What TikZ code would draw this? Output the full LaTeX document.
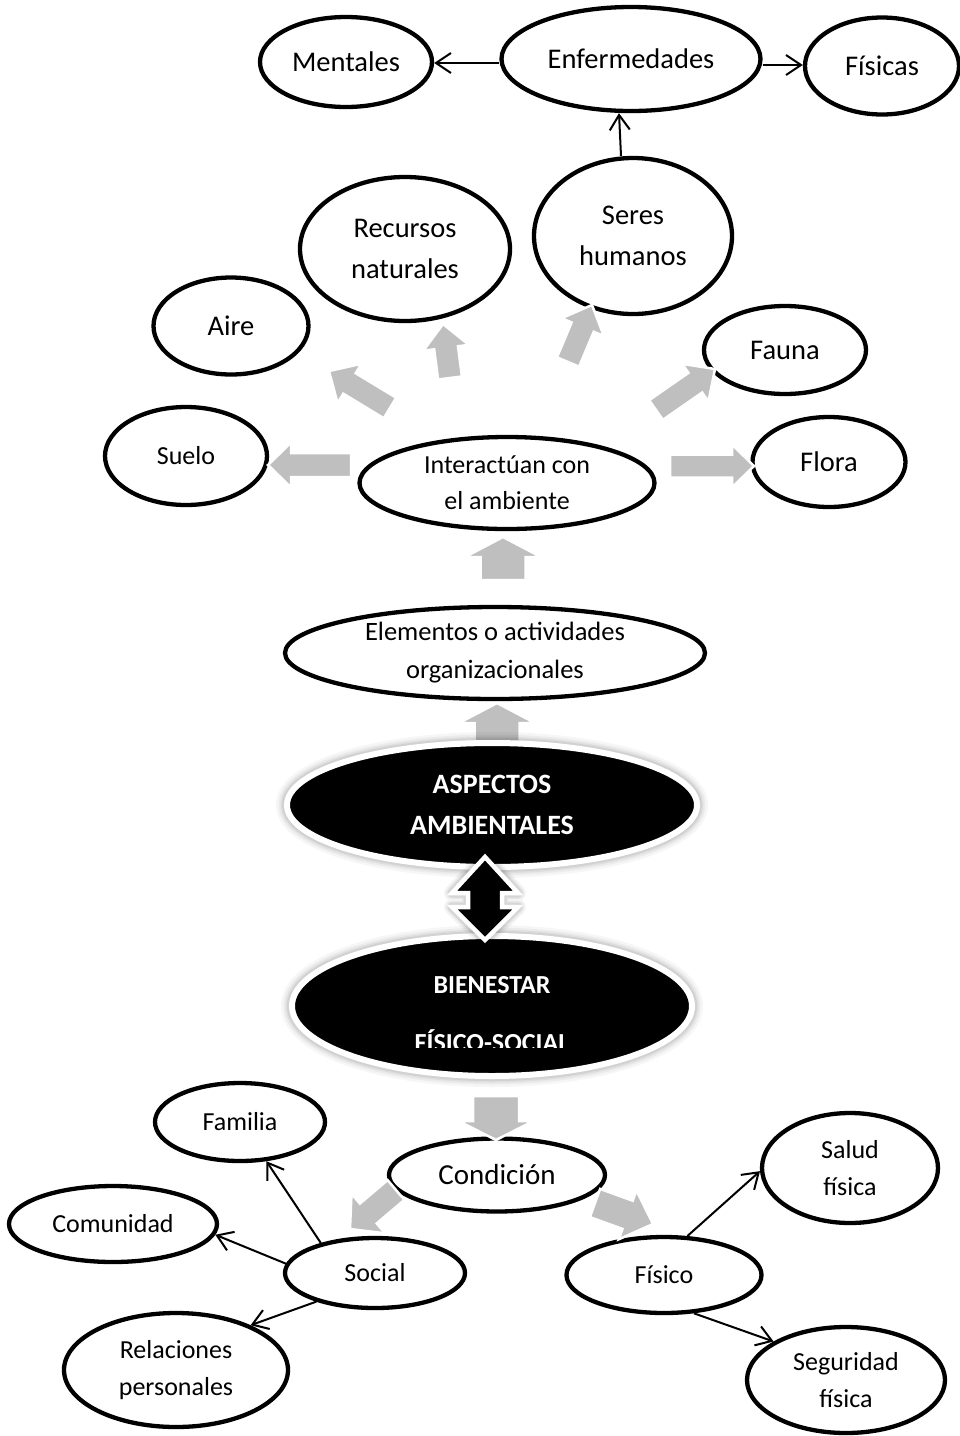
\documentclass[tikz,border=0pt]{standalone}
\usepackage{fontspec}
\setmainfont{Carlito}
\usetikzlibrary{shapes.geometric,arrows.meta,calc}
\definecolor{arrowgray}{HTML}{BFBFBF}

% block arrow: #1 tail, #2 tip, #3 shaft half width, #4 head half width, #5 head length
\newcommand\blockarrow[5]{%
  \coordinate (ba-h) at ($(#2)!#5pt!(#1)$);
  \path[barrow] ($(#1)!#3pt!90:(#2)$) -- ($(ba-h)!#3pt!90:(#2)$) -- ($(ba-h)!#4pt!90:(#2)$)
    -- (#2) -- ($(ba-h)!#4pt!-90:(#2)$) -- ($(ba-h)!#3pt!-90:(#2)$) -- ($(#1)!#3pt!-90:(#2)$) -- cycle;
}

\tikzset{
  bub/.style={ellipse, draw=black, line width=4.3pt, fill=white, inner sep=0pt, align=center, text=black},
  bigtext/.style={font=\fontsize{28.5}{41}\selectfont},
  smalltext/.style={font=\fontsize{26}{37}\selectfont},
  darkbub/.style={ellipse, fill=black, draw=white, line width=6pt, inner sep=0pt, align=center, text=white},
  link/.style={line width=2pt, -{Straight Barb[length=15pt,width=20pt,line width=2pt]}},
  barrow/.style={fill=arrowgray, draw=white, line width=2.5pt, line join=miter},
}

\begin{document}
\begin{tikzpicture}[x=1pt, y=-1pt]
\useasboundingbox (0,0) rectangle (960,1436);

% ---- upper map ----
\node[bub, bigtext, minimum width=172pt, minimum height=90pt] (ment) at (346,62) {Mentales};
\node[bub, bigtext, minimum width=259pt, minimum height=104pt] (enf) at (631,59) {Enfermedades};
\node[bub, bigtext, minimum width=154pt, minimum height=97pt] (fisicas) at (882,66) {Físicas};
\node[bub, bigtext, minimum width=198pt, minimum height=156pt] (seres) at (633,236) {Seres\\humanos};
\node[bub, bigtext, minimum width=210pt, minimum height=144pt] (recursos) at (405,249) {Recursos\\naturales};
\node[bub, bigtext, minimum width=155pt, minimum height=97pt] (aire) at (231,326) {Aire};
\node[bub, bigtext, minimum width=162pt, minimum height=88pt] (fauna) at (785,350) {Fauna};
\node[bub, font=\fontsize{26}{36}\selectfont, minimum width=162pt, minimum height=98pt] (suelo) at (186,456) {Suelo};
\node[bub, font=\fontsize{26}{36}\selectfont, minimum width=295pt, minimum height=92pt] (inter) at (507,483) {Interactúan con\\el ambiente};
\node[bub, bigtext, minimum width=153pt, minimum height=90pt] (flora) at (829,462) {Flora};
\node[bub, font=\fontsize{26.5}{38}\selectfont, minimum width=420pt, minimum height=92pt] (elem) at (495,653) {Elementos o actividades\\organizacionales};

% ---- lower map ----
\node[bub, font=\fontsize{29}{37}\selectfont, minimum width=216pt, minimum height=73pt] (cond) at (497,1175) {Condición};
\node[bub, smalltext, minimum width=170pt, minimum height=78pt] (fam) at (240,1122) {Familia};
\node[bub, smalltext, minimum width=208pt, minimum height=76pt] (com) at (113,1224) {Comunidad};
\node[bub, smalltext, minimum width=180pt, minimum height=70pt] (social) at (375,1273) {Social};
\node[bub, smalltext, minimum width=224pt, minimum height=114pt] (rel) at (176,1370) {Relaciones\\personales};
\node[bub, smalltext, minimum width=195pt, minimum height=76pt] (fisico) at (664,1275) {Físico};
\node[bub, smalltext, minimum width=176pt, minimum height=110pt] (salud) at (850,1168) {Salud\\física};
\node[bub, smalltext, minimum width=198pt, minimum height=106pt] (seg) at (846,1380) {Seguridad\\física};

% ---- grey block arrows ----
\coordinate (sueloT) at (351,465);   \coordinate (sueloH) at (268,465);
\coordinate (floraT) at (670,466);   \coordinate (floraH) at (754,466);
\coordinate (aireT) at (390,408);    \coordinate (aireH) at (329,371);
\coordinate (recT) at (450,378);     \coordinate (recH) at (443,324);
\coordinate (seresT) at (568,362);   \coordinate (seresH) at (592,305);
\coordinate (faunaT) at (656,410);   \coordinate (faunaH) at (715,369);
\coordinate (interT) at (503,580);   \coordinate (interH) at (503,537);
\coordinate (elemT) at (497,748);    \coordinate (elemH) at (497,703);
\coordinate (condT) at (496,1096);   \coordinate (condH) at (496,1140);
\coordinate (socT) at (396,1190);    \coordinate (socH) at (350,1229);
\coordinate (fisT) at (595,1203);    \coordinate (fisH) at (653,1224);

\blockarrow{sueloT}{sueloH}{12}{22.5}{23}
\blockarrow{floraT}{floraH}{11.5}{21.5}{22}
\blockarrow{aireT}{aireH}{12}{23}{24}
\blockarrow{recT}{recH}{12}{23}{24}
\blockarrow{seresT}{seresH}{12}{23}{24}
\blockarrow{faunaT}{faunaH}{12}{23}{24}
\blockarrow{interT}{interH}{22.5}{38}{20}
\blockarrow{elemT}{elemH}{22.5}{38}{20}
\blockarrow{condT}{condH}{23}{37.5}{19}
\blockarrow{socT}{socH}{13}{26}{24}
\blockarrow{fisT}{fisH}{15}{26}{27}

% ---- central black ellipses with soft halo ----
\foreach \w/\o in {22/0.035,17/0.045,13/0.055,10/0.06}{
  \draw[line width=\w pt, black, opacity=\o] (492,805) ellipse [x radius=205pt, y radius=62pt];
  \draw[line width=\w pt, black, opacity=\o] (492,1006) ellipse [x radius=200pt, y radius=70pt];
}
\node[darkbub, font=\bfseries\fontsize{28}{41}\selectfont, minimum width=410pt, minimum height=124pt] (asp) at (492,805) {ASPECTOS\\AMBIENTALES};
\node[darkbub, minimum width=400pt, minimum height=140pt] (bien) at (492,1006) {};
\begin{scope}
  \clip (280,940) rectangle (700,1047);
  \node[align=center, text=white, inner sep=0pt, font=\bfseries\fontsize{26}{58}\selectfont] (bientxt) at (492,1014) {BIENESTAR\\FÍSICO-SOCIAL};
\end{scope}

% ---- two-way arrow between the two black ellipses ----
\coordinate (dtop) at (485,857);
\coordinate (dbot) at (485,940);
\foreach \w/\o in {16/0.045,12/0.06,9/0.07}{
  \draw[line width=\w pt, black, opacity=\o, line join=round] (dtop) -- ++(33,36) -- ++(-16,0) -- ++(0,14) -- ++(16,0) -- (dbot) -- ++(-33,-33) -- ++(16,0) -- ++(0,-14) -- ++(-16,0) -- cycle;
}
\path[fill=black, draw=white, line width=4.5pt, line join=miter] (dtop) -- ++(33,36) -- ++(-16,0) -- ++(0,14) -- ++(16,0) -- (dbot) -- ++(-33,-33) -- ++(16,0) -- ++(0,-14) -- ++(-16,0) -- cycle;

% ---- thin arrows ----
\draw[link] ([yshift=-4pt]enf.west) -- ([yshift=-1pt]ment.east);
\draw[link] ([yshift=-6pt]enf.east) -- ([yshift=1pt]fisicas.west);
\draw[link] ([xshift=-12pt]seres.north) -- ([xshift=-12pt]enf.south);
\draw[link] (social.151) -- (fam.-56);
\draw[link] (social.174) -- (com.-6);
\draw[link] (social.206) -- (rel.31);
\draw[link] (fisico.59) -- (salud.182);
\draw[link] (fisico.-52) -- (seg.152);
\end{tikzpicture}
\end{document}
